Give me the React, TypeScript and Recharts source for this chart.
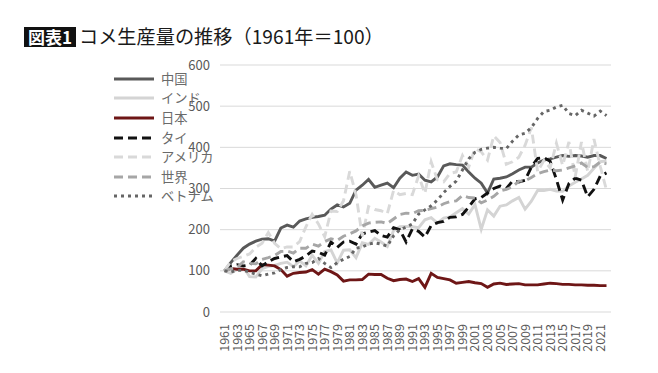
import React from "react";
import { LineChart, Line, XAxis, YAxis, CartesianGrid, Legend } from "recharts";

const years = Array.from({ length: 62 }, (_, i) => String(1961 + i));

const china = [100,120,138,155,165,172,177,178,172,204,211,206,221,226,230,232,235,250,260,255,264,296,308,322,303,308,313,302,325,340,332,335,320,316,328,355,360,358,357,340,325,313,289,323,325,328,336,345,352,352,362,369,372,376,380,378,380,379,376,380,380,373];
const india = [100,94,104,110,86,85,105,111,113,118,121,110,124,112,138,118,147,151,119,150,151,132,168,164,179,170,159,198,207,208,207,205,224,229,216,228,231,241,251,238,261,201,248,233,257,260,270,278,250,269,295,295,298,294,293,306,315,323,332,349,365,367];
const japan = [100,106,104,104,100,100,115,114,112,103,87,94,96,97,103,92,104,98,90,75,78,78,79,92,91,91,82,76,79,80,74,81,60,94,84,81,78,70,72,74,71,69,60,68,70,67,68,69,66,66,66,68,70,69,67,67,66,66,65,65,64,64];
const thailand = [100,112,115,112,114,130,112,122,130,134,137,122,128,136,148,145,138,170,157,170,172,165,190,194,198,186,182,205,200,170,202,196,182,210,217,220,230,231,237,255,275,278,289,300,306,300,318,316,320,352,373,375,366,322,272,312,325,320,280,298,330,338];
const usa = [100,122,130,135,141,157,167,193,167,154,158,158,171,207,237,214,183,245,244,270,342,285,184,256,249,246,239,295,285,288,285,331,288,365,321,316,337,340,380,352,397,389,369,428,412,359,365,376,405,448,341,368,350,410,356,413,328,413,341,420,354,296];
const world = [100,105,108,122,118,117,128,132,137,147,148,143,155,155,165,160,171,178,174,184,190,197,209,216,218,219,215,226,237,240,239,246,247,251,255,263,268,270,283,278,277,265,272,281,294,298,304,318,318,327,336,341,345,343,345,350,355,362,351,353,364,360];
const vietnam = [100,97,101,101,97,92,88,92,95,103,108,110,110,118,120,130,118,108,120,128,135,155,158,165,168,165,160,185,200,206,214,238,248,258,272,290,305,318,345,372,388,395,398,400,398,397,415,430,434,448,470,487,490,498,502,482,477,490,483,476,488,477];

const yTicks = [0, 100, 200, 300, 400, 500, 600];

const series = [
  { key: "china", name: "中国", values: china, color: "#595959", dash: undefined as string | undefined },
  { key: "india", name: "インド", values: india, color: "#d4d4d4", dash: undefined },
  { key: "japan", name: "日本", values: japan, color: "#6e1616", dash: undefined },
  { key: "thailand", name: "タイ", values: thailand, color: "#111111", dash: "9 5" },
  { key: "usa", name: "アメリカ", values: usa, color: "#d9d9d9", dash: "9 5" },
  { key: "world", name: "世界", values: world, color: "#a6a6a6", dash: "9 5" },
  { key: "vietnam", name: "ベトナム", values: vietnam, color: "#666666", dash: "3 4" },
];

const data = years.map((y, i) => {
  const row: Record<string, number | string> = { year: y };
  series.forEach((s) => {
    row[s.key] = s.values[i];
  });
  return row;
});

const FONT = '"Noto Sans CJK JP", "Noto Sans", sans-serif';

const XTick = (props: any) => {
  const { x, y, payload } = props;
  return (
    <g transform={`translate(${x},${y})`}>
      <text
        transform="rotate(-90)"
        x={-10}
        y={0}
        dy="0.36em"
        textAnchor="end"
        fill="#595959"
        fontSize={12.5}
        fontFamily={FONT}
      >
        {payload.value}
      </text>
    </g>
  );
};

const LegendContent = () => (
  <div style={{ fontFamily: FONT }}>
    {series.map((s) => (
      <div key={s.key} style={{ display: "flex", alignItems: "center", height: 19.6 }}>
        <svg width={44} height={8} style={{ display: "block" }}>
          <line
            x1={2}
            y1={4}
            x2={42}
            y2={4}
            stroke={s.color}
            strokeWidth={3}
            strokeDasharray={s.dash}
          />
        </svg>
        <span style={{ marginLeft: 5, fontSize: 13.3, color: "#6a6a6a", lineHeight: "16px", display: "block", height: 16 }}>{s.name}</span>
      </div>
    ))}
  </div>
);

export default function App() {
  return (
    <div style={{ position: "absolute", left: 0, top: 0, width: 658, height: 373, background: "#fff", overflow: "hidden" }}>
      <div
        style={{
          position: "absolute",
          left: 24,
          top: 27,
          width: 52,
          height: 20,
          background: "#111",
          color: "#fff",
          fontFamily: FONT,
          fontWeight: 700,
          fontSize: 17,
          lineHeight: "20px",
          textAlign: "center",
        }}
      >
        図表1
      </div>
      <div
        style={{
          position: "absolute",
          left: 79,
          top: 23,
          fontFamily: FONT,
          fontSize: 19.2,
          lineHeight: "27px",
          color: "#1a1a1a",
          whiteSpace: "nowrap",
        }}
      >
        コメ生産量の推移（1961年＝100）
      </div>
      <div style={{ position: "absolute", left: 0, top: 0 }}>
        <LineChart width={658} height={373} data={data} margin={{ top: 65, right: 47, left: 0, bottom: 0 }}>
          <CartesianGrid vertical={false} stroke="#d9d9d9" strokeWidth={1} />
          <XAxis
            dataKey="year"
            interval={1}
            height={61}
            tickLine={false}
            axisLine={false}
            tickSize={0}
            tick={<XTick />}
            padding={{ left: 4.5, right: 4.5 }}
          />
          <YAxis
            domain={[0, 600]}
            ticks={yTicks}
            width={60}
            tickLine={false}
            axisLine={false}
            tickSize={8}
            tickMargin={2}
            tick={{ fill: "#595959", fontSize: 13, fontFamily: FONT }}
          />
          <Legend
            layout="vertical"
            align="left"
            verticalAlign="top"
            content={<LegendContent />}
            wrapperStyle={{ left: 112, top: 69, width: 160 }}
          />
          {series.map((s) => (
            <Line
              key={s.key}
              type="linear"
              dataKey={s.key}
              name={s.name}
              stroke={s.color}
              strokeWidth={2.9}
              strokeDasharray={s.dash}
              dot={false}
              activeDot={false}
              isAnimationActive={false}
            />
          ))}
        </LineChart>
      </div>
    </div>
  );
}
